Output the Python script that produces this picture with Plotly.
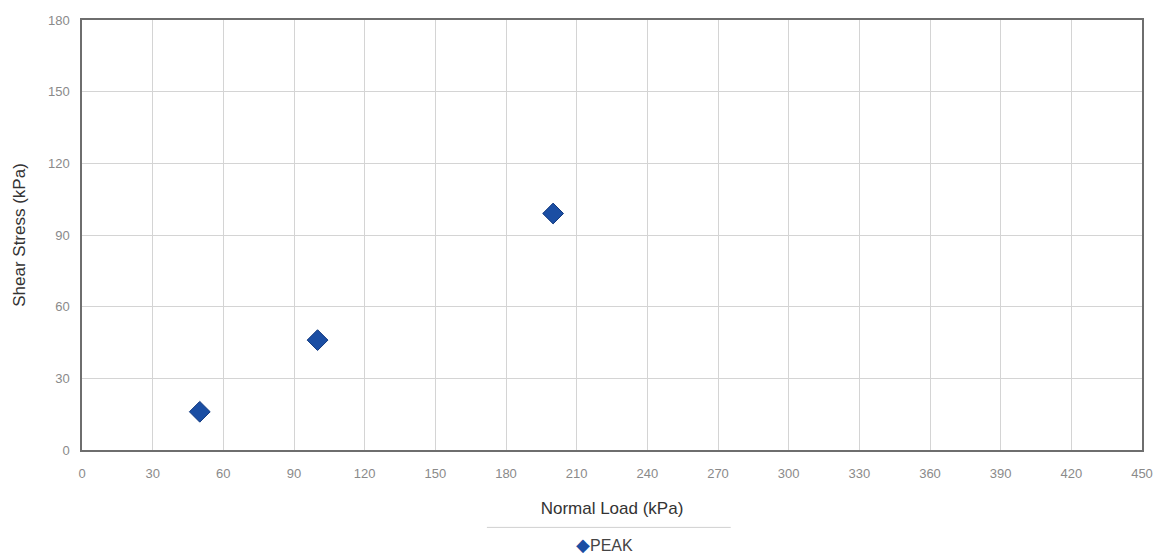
import plotly.graph_objects as go

# Direct shear test results
normal_load = [50, 100, 200]      # kPa
shear_peak = [16, 46, 99]         # kPa
series_name = "PEAK"

x_ticks = list(range(0, 451, 30))
y_ticks = list(range(0, 181, 30))

marker_color = "#1b4ea3"

fig = go.Figure()
fig.add_trace(go.Scatter(
    x=normal_load, y=shear_peak, mode="markers", name=series_name,
    marker=dict(symbol="diamond", size=16, color=marker_color,
                line=dict(color="#133a80", width=1)),
    showlegend=False,
))

axis_common = dict(
    showgrid=True, gridcolor="#d4d4d4", gridwidth=1,
    showline=True, linecolor="#6e6e6e", linewidth=1.5, mirror=True,
    zeroline=False, ticks="outside", tickcolor="rgba(0,0,0,0)",
    tickfont=dict(family="Liberation Sans", size=13, color="#8a8a8a"),
)

fig.update_layout(
    width=1155, height=554,
    margin=dict(l=82, r=13, t=20, b=104, autoexpand=False),
    paper_bgcolor="white", plot_bgcolor="white",
    font=dict(family="Liberation Sans"),
    xaxis=dict(range=[0, 450], tickvals=x_ticks, ticklen=11, title=dict(
        text="Normal Load (kPa)", font=dict(size=17, color="#333333"), standoff=22),
        **axis_common),
    yaxis=dict(range=[0, 180], tickvals=y_ticks, ticklen=8, title=dict(
        text="Shear Stress (kPa)", font=dict(size=17, color="#333333"), standoff=18),
        **axis_common),
    showlegend=False,
    annotations=[dict(
        xref="paper", yref="paper", x=0.493, y=-0.221, xanchor="center", yanchor="middle",
        showarrow=False, borderpad=0,
        text=f"<span style='color:{marker_color};font-size:18px'>◆</span>{series_name}",
        font=dict(size=16, color="#444444"),
    )],
    shapes=[dict(type="line", xref="paper", yref="paper",
                 x0=0.382, x1=0.612, y0=-0.18, y1=-0.18,
                 line=dict(color="#d0d0d0", width=1))],
)

fig.write_html("out.html")
